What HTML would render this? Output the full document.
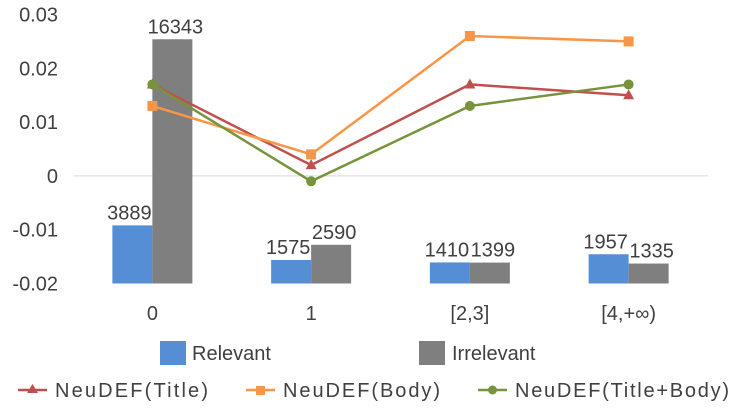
<!DOCTYPE html>
<html><head><meta charset="utf-8"><style>
html,body{margin:0;padding:0;background:#fff;}
svg text{font-family:"Liberation Sans",sans-serif;fill:#404040;}
</style></head><body>
<svg id="chart" width="735" height="409" viewBox="0 0 735 409" xmlns="http://www.w3.org/2000/svg">
<g id="grid"></g><g id="bars"></g><g id="lines"></g><g id="axes"></g>
<g id="legend">
 <rect x="160" y="341" width="26" height="24" fill="#558ED5"/>
 <text x="192" y="360" font-size="20">Relevant</text>
 <rect x="419" y="341" width="26" height="24" fill="#7F7F7F"/>
 <text x="452" y="360" font-size="20">Irrelevant</text>
 <line x1="18" y1="390" x2="47" y2="390" stroke="#C0504D" stroke-width="2.5"/>
 <polygon points="32.5,384 38,393 27,393" fill="#C0504D"/>
 <text x="55" y="397" font-size="20" textLength="153">NeuDEF(Title)</text>
 <line x1="246" y1="390" x2="275" y2="390" stroke="#F79646" stroke-width="2.5"/>
 <rect x="256" y="386" width="9" height="9" fill="#F79646"/>
 <text x="283" y="397" font-size="20" textLength="157">NeuDEF(Body)</text>
 <line x1="478" y1="390" x2="507" y2="390" stroke="#77933C" stroke-width="2.5"/>
 <circle cx="492.5" cy="390" r="4.5" fill="#77933C"/>
 <text x="515" y="397" font-size="20" textLength="214">NeuDEF(Title+Body)</text>
</g>
</svg>
<script>
const categories = ["0", "1", "[2,3]", "[4,+∞)"];
const relevant = [3889, 1575, 1410, 1957];
const irrelevant = [16343, 2590, 1399, 1335];
const titleVals = [0.017, 0.002, 0.017, 0.015];
const bodyVals = [0.013, 0.004, 0.026, 0.025];
const titleBodyVals = [0.017, -0.001, 0.013, 0.017];
const yTicks = [0.03, 0.02, 0.01, 0, -0.01, -0.02];
const yTickLabels = ["0.03", "0.02", "0.01", "0", "-0.01", "-0.02"];

const NS = "http://www.w3.org/2000/svg";
const plotL = 73, plotR = 708, plotTop = 14.5, plotBot = 283.5;
const yMin = -0.02, yMax = 0.03, y2Max = 18000;
const bandW = (plotR - plotL) / categories.length;
const y = v => plotBot - (v - yMin) / (yMax - yMin) * (plotBot - plotTop);
const y2 = v => plotBot - v / y2Max * (plotBot - plotTop);
const xc = i => plotL + bandW * (i + 0.5);
const barW = 40;
function mk(tag, attrs, parent, text) {
  const e = document.createElementNS(NS, tag);
  for (const k in attrs) e.setAttribute(k, attrs[k]);
  if (text !== undefined) e.textContent = text;
  parent.appendChild(e); return e;
}
const grid = document.getElementById('grid'), bars = document.getElementById('bars'),
      lines = document.getElementById('lines'), axes = document.getElementById('axes');

const zl = mk('line', {x1: plotL, x2: plotR, y1: y(0), y2: y(0), stroke: '#D9D9D9', 'stroke-width': 1}, grid);



yTicks.forEach((t, i) => {
  const tx = mk('text', {x: 58, y: y(t) + 7, 'font-size': 20, 'text-anchor': 'end'}, axes, yTickLabels[i]);
  
  
});
categories.forEach((c, i) => {
  const tx = mk('text', {x: xc(i), y: 320, 'font-size': 20, 'text-anchor': 'middle'}, axes, c);
  
  
});

categories.forEach((c, i) => {
  const bx = xc(i) - barW;
  const r = mk('rect', {x: bx, y: y2(relevant[i]), width: barW, height: plotBot - y2(relevant[i]), fill: '#558ED5'}, bars);
  
  
  const g = mk('rect', {x: xc(i), y: y2(irrelevant[i]), width: barW, height: plotBot - y2(irrelevant[i]), fill: '#7F7F7F'}, bars);
  
  
  const l1 = mk('text', {x: bx + barW / 2 - 3, y: y2(relevant[i]) - 6, 'font-size': 20, 'text-anchor': 'middle'}, bars, relevant[i]);
  
  
  const l2 = mk('text', {x: xc(i) + barW / 2 + 3, y: y2(irrelevant[i]) - 6, 'font-size': 20, 'text-anchor': 'middle'}, bars, irrelevant[i]);
  
  
});

function series(vals, color, marker, name) {
  const pts = vals.map((v, i) => xc(i) + ',' + y(v)).join(' ');
  const pl = mk('polyline', {points: pts, fill: 'none', stroke: color, 'stroke-width': 2.5}, lines);
  
  
  vals.forEach((v, i) => {
    const cx = xc(i), cy = y(v);
    let m;
    if (marker === 'tri') m = mk('polygon', {points: `${cx},${cy - 6} ${cx + 5.5},${cy + 4} ${cx - 5.5},${cy + 4}`, fill: color}, lines);
    else if (marker === 'sq') m = mk('rect', {x: cx - 5, y: cy - 5, width: 10, height: 10, fill: color}, lines);
    else m = mk('circle', {cx: cx, cy: cy, r: 5, fill: color}, lines);
    
    
  });
}
series(titleVals, '#C0504D', 'tri', 'title');
series(bodyVals, '#F79646', 'sq', 'body');
series(titleBodyVals, '#77933C', 'circ', 'title-body');
</script>
</body></html>
